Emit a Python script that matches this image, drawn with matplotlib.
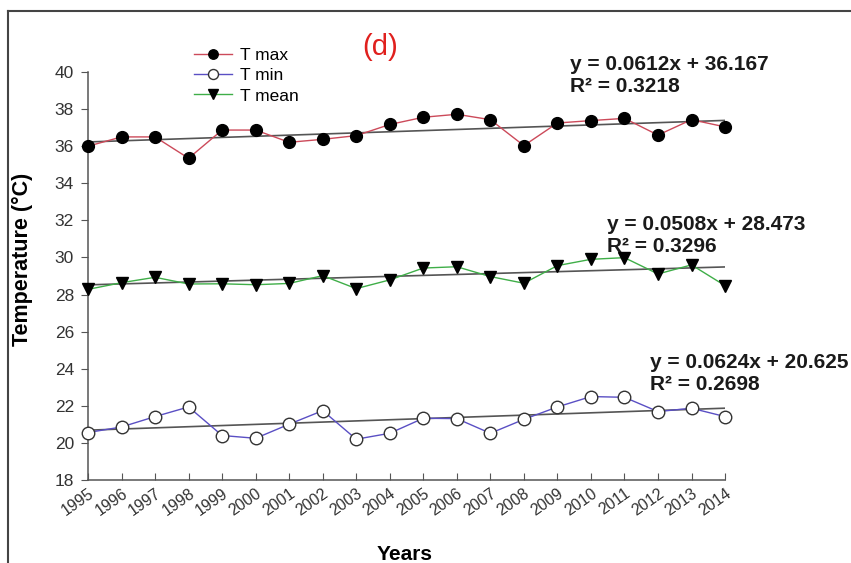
import numpy as np
import matplotlib.pyplot as plt
from matplotlib.lines import Line2D

plt.rcParams['font.family'] = ['Liberation Sans', 'DejaVu Sans']

# -------------------------------
# Data
# -------------------------------

years = list(range(1995, 2015))

t_max = [36.0, 36.5, 36.5, 35.35, 36.87, 36.87, 36.21, 36.37, 36.57, 37.17,
         37.56, 37.72, 37.43, 36.03, 37.25, 37.38, 37.5, 36.6, 37.43, 37.04]
t_min = [20.56, 20.86, 21.42, 21.94, 20.4, 20.25, 21.01, 21.74, 20.2, 20.52,
         21.33, 21.31, 20.52, 21.27, 21.94, 22.5, 22.46, 21.69, 21.87, 21.42]
t_mean = [28.28, 28.64, 28.93, 28.57, 28.58, 28.53, 28.6, 29.02, 28.32, 28.79,
          29.43, 29.5, 28.97, 28.61, 29.56, 29.9, 29.99, 29.11, 29.6, 28.48]

# linear trends (x = 1..20)
fit_max = (0.0612, 36.167, 0.3218)
fit_min = (0.0624, 20.625, 0.2698)
fit_mean = (0.0508, 28.473, 0.3296)

# -------------------------------
# Plot
# -------------------------------

fig = plt.figure(figsize=(8.51, 5.63), dpi=100)
ax = fig.add_axes([0.1034, 0.1474, 0.7486, 0.7247])

idx = np.arange(1, len(years) + 1)

ax.plot(years, t_max, color='#cc4a5a', lw=1.0, marker='o', ms=8.5,
        mfc='black', mec='black', label='T max', zorder=3, clip_on=False)
ax.plot(years, t_min, color='#5a4fc4', lw=1.0, marker='o', ms=9,
        mfc='white', mec='#333333', mew=1.0, label='T min', zorder=3,
        clip_on=False)
ax.plot(years, t_mean, color='#3fae48', lw=1.0, marker='v', ms=8.5,
        mfc='black', mec='black', label='T mean', zorder=3, clip_on=False)

for slope, icpt, r2 in [fit_max, fit_min, fit_mean]:
    ax.plot(years, slope * idx + icpt, color='#555555', lw=1.2, zorder=2)

ax.set_xlim(1995, 2014)
ax.set_ylim(18, 40)
ax.set_yticks(np.arange(18, 41, 2))
ax.set_xticks(years)
ax.set_xticklabels([str(y) for y in years], rotation=35, ha='right',
                   va='top', rotation_mode='anchor')

ax.spines['top'].set_visible(False)
ax.spines['right'].set_visible(False)
for s in ['left', 'bottom']:
    ax.spines[s].set_color('#555555')
    ax.spines[s].set_linewidth(1.1)

ax.tick_params(axis='y', direction='out', length=5, color='#555555',
               labelsize=12.5, labelcolor='#333333', pad=5)
ax.tick_params(axis='x', direction='in', length=5, color='#555555',
               labelsize=11.5, labelcolor='#333333', pad=4)

ax.set_ylabel('Temperature (°C)', fontsize=15.5, fontweight='bold')
ax.yaxis.set_label_coords(-0.086, 0.54)
ax.set_xlabel('Years', fontsize=15, fontweight='bold')
ax.xaxis.set_label_coords(0.497, -0.16)

# equations
eq_style = dict(fontsize=15, fontweight='bold', color='#1a1a1a',
                transform=fig.transFigure, ha='left', va='center')
eq_pos = [(fit_max, 570, 65), (fit_mean, 607, 225), (fit_min, 650, 362)]
for (slope, icpt, r2), px, py in eq_pos:
    fig.text(px / 851, 1 - py / 563, 'y = {}x + {}'.format(slope, icpt),
             **eq_style)
    fig.text(px / 851, 1 - (py + 22) / 563, 'R² = {}'.format(r2),
             **eq_style)

fig.text(380 / 851, 1 - 47 / 563, '(d)', color='#e0201e', fontsize=21,
         ha='center', va='center')

leg = ax.legend(loc='upper left', bbox_to_anchor=(178 / 851, 1 - 32 / 563),
                bbox_transform=fig.transFigure, frameon=False, fontsize=12.5,
                handlelength=2.2, labelspacing=0.3, handletextpad=0.45,
                markerscale=0.8)

# border around the figure
fig.add_artist(Line2D([8 / 851, 8 / 851], [0, 1 - 11 / 563],
                      transform=fig.transFigure, color='#444444', lw=1.5))
fig.add_artist(Line2D([8 / 851, 1], [1 - 11 / 563, 1 - 11 / 563],
                      transform=fig.transFigure, color='#444444', lw=1.5))

fig.savefig('out.png', dpi=100)
